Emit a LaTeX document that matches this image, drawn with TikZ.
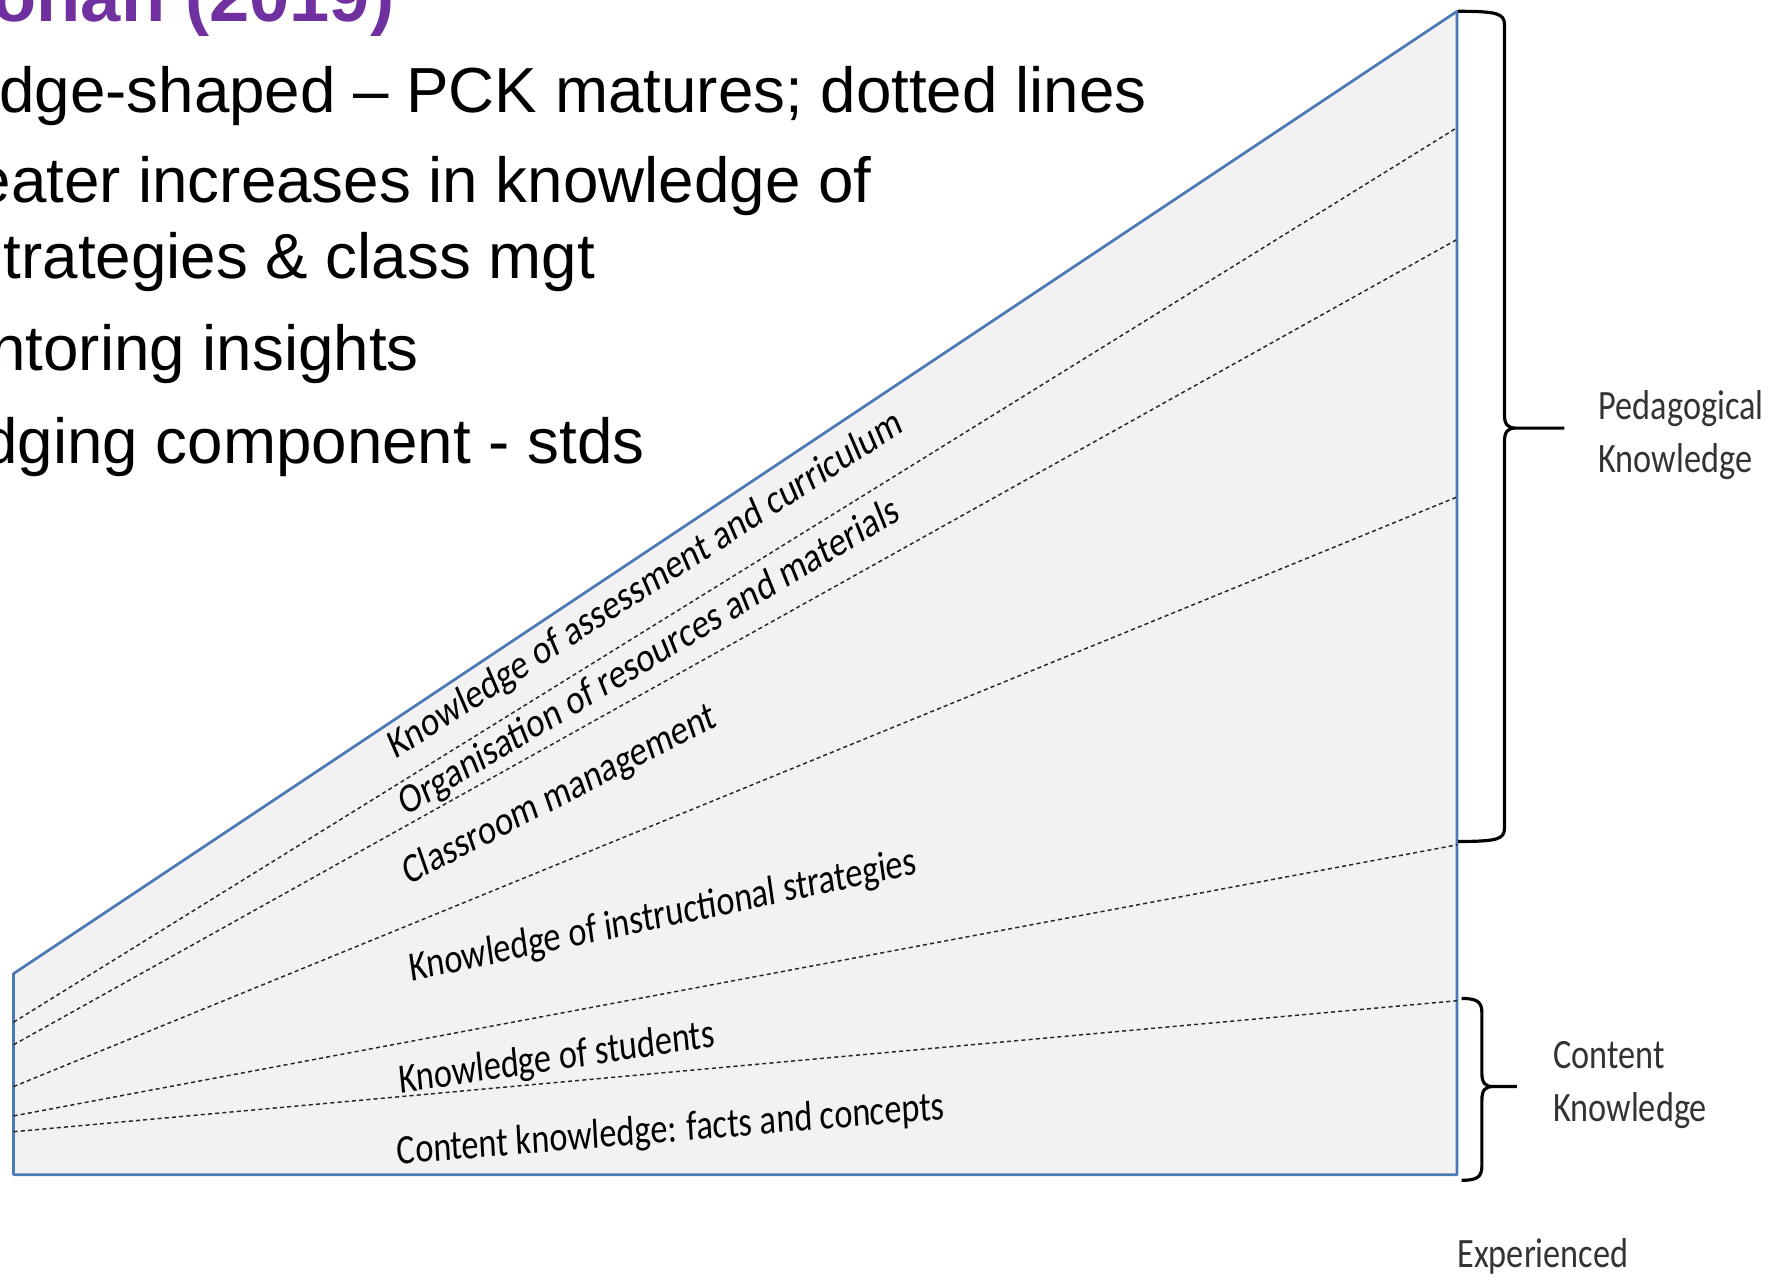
\documentclass[tikz,border=0pt]{standalone}
\usepackage{fontspec}
\newfontfamily\slidefont{Liberation Sans}
\newfontfamily\diagfont{Carlito}
\definecolor{wedgeblue}{RGB}{74,122,180}
\definecolor{wedgefill}{RGB}{242,242,242}
\definecolor{headpurple}{RGB}{112,48,160}
\tikzstyle{headtext}=[anchor=base west,inner sep=0pt,text=headpurple,font=\slidefont\bfseries\fontsize{32}{38}\selectfont]
\tikzstyle{bullettext}=[anchor=base west,inner sep=0pt,font=\slidefont\fontsize{28.2}{34}\selectfont]
\tikzstyle{inlabel}=[anchor=base west,inner sep=0pt,xscale=0.82,font=\diagfont\fontsize{18.5}{23.5}\selectfont]
\tikzstyle{sidelabel}=[anchor=base west,inner sep=0pt,xscale=0.82,align=left,text=black!80,font=\diagfont\fontsize{18.5}{23.5}\selectfont]
\tikzstyle{wedge}=[draw=wedgeblue,fill=wedgefill,line width=1.2pt,line join=round]
\tikzstyle{layerline}=[draw=black!85,line width=0.65pt,dash pattern=on 1.8pt off 1.4pt]
\tikzstyle{curly}=[draw,line width=1.4pt,line join=round]
% #1 bout x, #2 haut, #3 bas, #4 tige x, #5 pointe x, #6 pointe y
\newcommand{\sidebrace}[6]{%
    \path[curly] (#1,#2) .. controls ({#4-6},#2) and (#4,{#2+2}) .. (#4,{#2+12})
        -- (#4,{#6-12}) .. controls (#4,{#6-3}) and ({#4+3},#6) .. ({#4+10},#6) -- (#5,#6)
        ({#4+10},#6) .. controls ({#4+3},#6) and (#4,{#6+3}) .. (#4,{#6+12})
        -- (#4,{#3-12}) .. controls (#4,{#3-2}) and ({#4-6},#3) .. (#1,#3);}

\begin{document}
\begin{tikzpicture}[x=0.5pt,y=-0.5pt]
    \useasboundingbox (0,0) rectangle (1568,1137);
    \clip (0,0) rectangle (1568,1137);
    % titre
    \node[headtext] (head) at (-7,19) {ohan (2019)};
    % puces
    \foreach \ypos/\xpos/\name/\txt in {{100/-1/wedge1/dge-shaped \textendash{} PCK matures; dotted lines}, {179/-22/greater/eater increases in knowledge of}, {247/3/strat/trategies \& class mgt}, {328/-9/mentor/ntoring insights}, {410/-16/judge/dging component - stds}}
        \node[bullettext] (\name) at (\xpos,\ypos) {\txt};
    % coin
    \coordinate (bl) at (12,1040);
    \coordinate (tl) at (12,862);
    \coordinate (tr) at (1290,10);
    \coordinate (br) at (1290,1040);
    \path[wedge] (bl) -- (tl) -- (tr) -- (br) -- cycle;
    % lignes
    \foreach \left/\right in {905/113, 925/212, 962/440, 988/748, 1002/886}
        \path[layerline] (12,\left) -- (1290,\right);
    % etiquettes
    \foreach \pos/\ang/\name/\txt in {{(350,673)/27.9/assess/Knowledge of assessment and curriculum}, {(359,723)/26.2/organise/Organisation of resources and materials}, {(361,784)/22.9/classroom/Classroom management}, {(364,869)/9.9/instruct/Knowledge of instructional strategies}, {(354,968)/6.9/students/Knowledge of students}, {(352,1031)/3.9/content/Content knowledge: facts and concepts}}
        \node[inlabel,rotate=\ang] (\name) at \pos {\txt};
    % accolades
    \sidebrace{1291}{10}{745}{1332}{1385}{379}
    \sidebrace{1294}{884}{1045}{1312}{1343}{962}
    \node[sidelabel] (pk) at (1415,418) {Pedagogical\\Knowledge};
    \node[sidelabel] (ck) at (1375,993) {Content\\Knowledge};
    \node[sidelabel] (exp) at (1290,1122) {Experienced};
\end{tikzpicture}
\end{document}
